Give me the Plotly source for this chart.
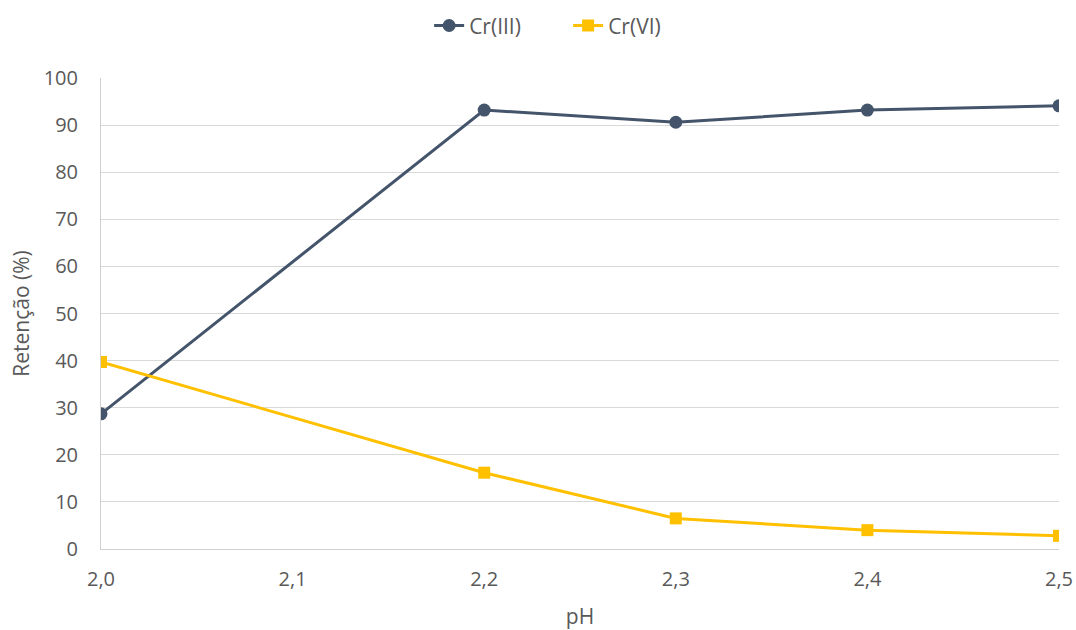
import plotly.graph_objects as go

ph = [2.0, 2.2, 2.3, 2.4, 2.5]
cr3 = [28.7, 93.2, 90.6, 93.2, 94.1]
cr6 = [39.7, 16.2, 6.5, 4.0, 2.8]

font_family = "Open Sans, Liberation Sans, sans-serif"
fig = go.Figure()
fig.add_trace(go.Scatter(x=ph, y=cr3, name="Cr(III)", mode="lines+markers",
                         line=dict(color="#44546A", width=3),
                         marker=dict(symbol="circle", size=13, color="#44546A")))
fig.add_trace(go.Scatter(x=ph, y=cr6, name="Cr(VI)", mode="lines+markers",
                         line=dict(color="#FFC000", width=3),
                         marker=dict(symbol="square", size=12, color="#FFC000")))

fig.update_layout(
    width=1076, height=630,
    margin=dict(l=101, r=17, t=78, b=81, autoexpand=False),
    paper_bgcolor="white", plot_bgcolor="white",
    separators=",.",
    font=dict(family=font_family, color="#595959", size=20),
    legend=dict(orientation="h", x=0.528, xanchor="center", xref="container",
                y=0.959, yanchor="middle", yref="container",
                entrywidth=94,
                font=dict(size=21, color="#595959")),
    xaxis=dict(range=[2.0, 2.5], dtick=0.1, tick0=2.0, tickformat=".1f",
               showgrid=False, zeroline=False, showline=True, linecolor="#D0D0D0",
               linewidth=1, ticks="", automargin=False, ticklabelstandoff=12,
               title=dict(text="pH", font=dict(size=21), standoff=18)),
    yaxis=dict(range=[0, 100], dtick=10, showgrid=True, gridcolor="#D9D9D9", gridwidth=1,
               zeroline=False, showline=True, linecolor="#D0D0D0", linewidth=1, ticks="",
               ticklabelstandoff=18, automargin=False,
               title=dict(text="Retenção (%)", font=dict(size=21), standoff=8)),
)
fig.write_html(
    "out.html",
    config={"displayModeBar": False},
    post_script="document.body.style.margin='0';document.body.style.overflow='hidden';",
)
